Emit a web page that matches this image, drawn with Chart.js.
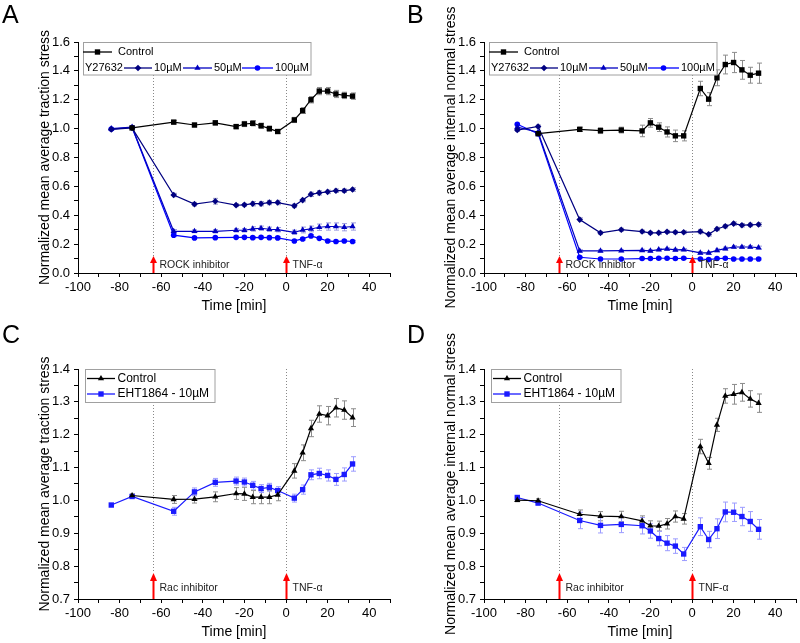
<!DOCTYPE html>
<html>
<head>
<meta charset="utf-8">
<script src="https://cdn.jsdelivr.net/npm/chart.js@4.4.1/dist/chart.umd.min.js"></script>
<style>
  body { margin: 0; background: #fff; }
  #wrap { position: relative; width: 800px; height: 643px; overflow: hidden; }
  .panel { position: absolute; }
  .letter { position: absolute; font: 25px "Liberation Sans", Arial, sans-serif; color: #000; line-height: 28px; }
</style>
</head>
<body>
<div id="wrap">
  <div class="panel" style="left:0;top:0;width:400px;height:321px"><canvas id="chartA"></canvas></div>
  <div class="panel" style="left:400px;top:0;width:400px;height:321px"><canvas id="chartB"></canvas></div>
  <div class="panel" style="left:0;top:321px;width:400px;height:322px"><canvas id="chartC"></canvas></div>
  <div class="panel" style="left:400px;top:321px;width:400px;height:322px"><canvas id="chartD"></canvas></div>
  <div class="letter" style="left:2px;top:0px">A</div>
  <div class="letter" style="left:407px;top:0px">B</div>
  <div class="letter" style="left:2px;top:320px">C</div>
  <div class="letter" style="left:407px;top:320px">D</div>
</div>
<script>
// time points [min]
const times = [-84, -74, -54, -44, -34, -24, -20, -16, -12, -8, -4, 4, 8, 12, 16, 20, 24, 28, 32];

// panel A - traction stress, ROCK inhibitor
const ctrlA = [null, 1.005, 1.045, 1.025, 1.04, 1.014, 1.032, 1.037, 1.02, 1.0, 0.98, 1.06, 1.125, 1.2, 1.26, 1.26, 1.24, 1.23, 1.225];
const y10A = [0.995, 1.005, 0.54, 0.477, 0.497, 0.47, 0.472, 0.48, 0.48, 0.488, 0.488, 0.465, 0.505, 0.545, 0.555, 0.562, 0.57, 0.57, 0.578];
const y50A = [1.0, 1.01, 0.289, 0.289, 0.289, 0.296, 0.296, 0.305, 0.31, 0.303, 0.30, 0.282, 0.298, 0.305, 0.317, 0.322, 0.322, 0.317, 0.322];
const y100A = [0.997, 1.008, 0.262, 0.243, 0.245, 0.247, 0.247, 0.245, 0.247, 0.245, 0.243, 0.222, 0.236, 0.257, 0.24, 0.222, 0.218, 0.222, 0.218];
const errCtrlA = [null, 0.01, 0.012, 0.012, 0.015, 0.015, 0.018, 0.018, 0.018, 0.018, 0.013, 0.018, 0.02, 0.022, 0.025, 0.025, 0.025, 0.022, 0.022];
const err10A = [0.008, 0.008, 0.012, 0.012, 0.02, 0.01, 0.01, 0.015, 0.015, 0.015, 0.015, 0.012, 0.012, 0.015, 0.015, 0.012, 0.012, 0.012, 0.012];
const err50A = [0.008, 0.008, 0.012, 0.01, 0.012, 0.012, 0.012, 0.015, 0.015, 0.015, 0.015, 0.015, 0.02, 0.02, 0.022, 0.025, 0.025, 0.025, 0.025];
const err100A = [0.008, 0.008, 0.01, 0.008, 0.008, 0.008, 0.008, 0.008, 0.008, 0.008, 0.008, 0.008, 0.008, 0.008, 0.008, 0.008, 0.008, 0.008, 0.008];

// panel B - internal normal stress, ROCK inhibitor
const ctrlB = [null, 0.965, 0.995, 0.986, 0.99, 0.984, 1.04, 1.01, 0.977, 0.95, 0.95, 1.278, 1.204, 1.352, 1.444, 1.458, 1.407, 1.37, 1.384];
const y10B = [0.99, 1.015, 0.37, 0.278, 0.30, 0.287, 0.278, 0.278, 0.285, 0.282, 0.282, 0.287, 0.268, 0.305, 0.324, 0.342, 0.331, 0.333, 0.336];
const y50B = [1.01, 0.975, 0.153, 0.153, 0.155, 0.157, 0.153, 0.162, 0.167, 0.16, 0.162, 0.139, 0.139, 0.157, 0.169, 0.18, 0.18, 0.18, 0.176];
const y100B = [1.03, 0.965, 0.109, 0.097, 0.097, 0.1, 0.1, 0.102, 0.102, 0.1, 0.102, 0.097, 0.093, 0.1, 0.102, 0.097, 0.097, 0.097, 0.097];
const errCtrlB = [null, 0.01, 0.015, 0.02, 0.02, 0.04, 0.03, 0.03, 0.035, 0.04, 0.035, 0.05, 0.045, 0.055, 0.065, 0.07, 0.065, 0.055, 0.07];
const err10B = [0.01, 0.01, 0.012, 0.01, 0.01, 0.01, 0.01, 0.01, 0.01, 0.01, 0.01, 0.015, 0.012, 0.012, 0.012, 0.012, 0.012, 0.012, 0.012];
const err50B = [0.008, 0.008, 0.008, 0.008, 0.008, 0.008, 0.008, 0.008, 0.008, 0.008, 0.008, 0.01, 0.01, 0.01, 0.01, 0.01, 0.01, 0.01, 0.01];
const err100B = [0.006, 0.006, 0.006, 0.006, 0.006, 0.006, 0.006, 0.006, 0.006, 0.006, 0.006, 0.006, 0.006, 0.006, 0.006, 0.006, 0.006, 0.006, 0.006];

// panel C - traction stress, Rac inhibitor
const ctrlC = [null, 1.015, 1.003, 1.004, 1.011, 1.021, 1.02, 1.01, 1.01, 1.01, 1.017, 1.09, 1.145, 1.219, 1.263, 1.258, 1.282, 1.275, 1.252];
const ehtC = [0.986, 1.012, 0.967, 1.026, 1.055, 1.059, 1.056, 1.046, 1.036, 1.04, 1.03, 1.007, 1.033, 1.078, 1.082, 1.076, 1.064, 1.079, 1.111];
const errCtrlC = [null, 0.005, 0.012, 0.012, 0.015, 0.018, 0.02, 0.02, 0.02, 0.02, 0.018, 0.022, 0.024, 0.025, 0.025, 0.028, 0.028, 0.028, 0.027];
const errEhtC = [0.005, 0.005, 0.012, 0.012, 0.012, 0.012, 0.012, 0.012, 0.012, 0.012, 0.012, 0.012, 0.014, 0.015, 0.016, 0.017, 0.018, 0.02, 0.022];

// panel D - internal normal stress, Rac inhibitor
const ctrlD = [1.001, 0.999, 0.958, 0.952, 0.951, 0.938, 0.923, 0.922, 0.929, 0.951, 0.944, 1.164, 1.113, 1.23, 1.318, 1.323, 1.329, 1.309, 1.296];
const ehtD = [1.009, 0.992, 0.939, 0.924, 0.927, 0.923, 0.907, 0.884, 0.87, 0.861, 0.837, 0.92, 0.881, 0.914, 0.965, 0.964, 0.951, 0.936, 0.912];
const errCtrlD = [0.005, 0.006, 0.013, 0.014, 0.016, 0.015, 0.015, 0.015, 0.016, 0.017, 0.016, 0.022, 0.018, 0.02, 0.022, 0.03, 0.027, 0.025, 0.028];
const errEhtD = [0.005, 0.006, 0.025, 0.023, 0.025, 0.025, 0.022, 0.022, 0.023, 0.022, 0.02, 0.027, 0.025, 0.03, 0.03, 0.028, 0.028, 0.03, 0.03];

// axis ticks
const xTicks = [-100, -90, -80, -70, -60, -50, -40, -30, -20, -10, 0, 10, 20, 30, 40, 50];
const xLabels = [-100, -80, -60, -40, -20, 0, 20, 40];
const yTicksAB = [0, 0.1, 0.2, 0.3, 0.4, 0.5, 0.6, 0.7, 0.8, 0.9, 1.0, 1.1, 1.2, 1.3, 1.4, 1.5, 1.6];
const yLabelsAB = [0, 0.2, 0.4, 0.6, 0.8, 1.0, 1.2, 1.4, 1.6];
const yTicksCD = [0.7, 0.75, 0.8, 0.85, 0.9, 0.95, 1.0, 1.05, 1.1, 1.15, 1.2, 1.25, 1.3, 1.35, 1.4];
const yLabelsCD = [0.7, 0.8, 0.9, 1.0, 1.1, 1.2, 1.3, 1.4];

Chart.defaults.font.family = '"Liberation Sans", Arial, sans-serif';
Chart.defaults.color = '#000';

function drawMarker(ctx, style, r, x, y, color) {
  ctx.fillStyle = color;
  ctx.beginPath();
  if (style === 'rect') {
    const s = r * Math.SQRT1_2;
    ctx.rect(x - s, y - s, 2 * s, 2 * s);
  } else if (style === 'rectRot') {
    ctx.moveTo(x, y - r); ctx.lineTo(x + r, y); ctx.lineTo(x, y + r); ctx.lineTo(x - r, y); ctx.closePath();
  } else if (style === 'triangle') {
    ctx.moveTo(x, y - r); ctx.lineTo(x + 0.866 * r, y + 0.5 * r); ctx.lineTo(x - 0.866 * r, y + 0.5 * r); ctx.closePath();
  } else {
    ctx.arc(x, y, r, 0, Math.PI * 2);
  }
  ctx.fill();
}

const overlay = {
  id: 'overlay',
  beforeDatasetsDraw(chart, args, o) {
    const { ctx, chartArea, scales: { x, y } } = chart;
    ctx.save();
    // dotted event lines
    ctx.strokeStyle = '#888';
    ctx.lineWidth = 1;
    ctx.setLineDash([1, 2]);
    o.marks.forEach(m => {
      const px = Math.round(x.getPixelForValue(m.t)) + 0.5;
      ctx.beginPath();
      ctx.moveTo(px, chartArea.top);
      ctx.lineTo(px, chartArea.bottom - o.arrowLen);
      ctx.stroke();
    });
    ctx.setLineDash([]);
    // error bars
    chart.data.datasets.forEach(ds => {
      ctx.strokeStyle = ds.errColor;
      ds.data.forEach((p, j) => {
        const e = ds.errs[j];
        if (p.y == null || e == null) return;
        const px = Math.round(x.getPixelForValue(p.x)) + 0.5;
        const y1 = y.getPixelForValue(p.y + e);
        const y2 = y.getPixelForValue(p.y - e);
        ctx.beginPath();
        ctx.moveTo(px, y1); ctx.lineTo(px, y2);
        ctx.moveTo(px - 2.5, y1); ctx.lineTo(px + 2.5, y1);
        ctx.moveTo(px - 2.5, y2); ctx.lineTo(px + 2.5, y2);
        ctx.stroke();
      });
    });
    ctx.restore();
  },
  afterDatasetsDraw(chart, args, o) {
    const { ctx, chartArea, scales: { x } } = chart;
    const L = chartArea.left, T = chartArea.top, B = chartArea.bottom;
    ctx.save();
    // red arrows + labels
    o.marks.forEach(m => {
      const px = Math.round(x.getPixelForValue(m.t)) + 0.5;
      ctx.fillStyle = '#ff0000';
      ctx.fillRect(px - 1, B - o.arrowLen + o.headH - 1, 2, o.arrowLen - o.headH + 1);
      ctx.beginPath();
      ctx.moveTo(px, B - o.arrowLen);
      ctx.lineTo(px + 3.5, B - o.arrowLen + o.headH);
      ctx.lineTo(px - 3.5, B - o.arrowLen + o.headH);
      ctx.closePath();
      ctx.fill();
      ctx.fillStyle = '#222';
      ctx.font = '10.5px "Liberation Sans", Arial, sans-serif';
      ctx.textBaseline = 'middle';
      ctx.textAlign = 'left';
      ctx.fillText(m.text, px + 6, B - o.labelDy);
    });
    // legend
    const lg = o.legend;
    ctx.fillStyle = '#fff';
    ctx.strokeStyle = '#a0a0a0';
    ctx.lineWidth = 1;
    ctx.fillRect(L + lg.box[0], T + lg.box[1], lg.box[2] - lg.box[0], lg.box[3] - lg.box[1]);
    ctx.strokeRect(Math.round(L + lg.box[0]) + 0.5, Math.round(T + lg.box[1]) + 0.5, lg.box[2] - lg.box[0], lg.box[3] - lg.box[1]);
    ctx.font = lg.font;
    ctx.textBaseline = 'middle';
    lg.rows.forEach(row => {
      const yy = T + row.y;
      if (row.prefix) {
        ctx.fillStyle = '#000';
        ctx.fillText(row.prefix, L + row.px, yy);
      }
      row.items.forEach(it => {
        const ds = chart.data.datasets[it.ds];
        ctx.strokeStyle = ds.borderColor;
        ctx.lineWidth = 1.3;
        ctx.beginPath();
        ctx.moveTo(L + it.x0, yy); ctx.lineTo(L + it.x1, yy);
        ctx.stroke();
        drawMarker(ctx, ds.pointStyle, ds.pointRadius, L + (it.x0 + it.x1) / 2, yy, ds.borderColor);
        ctx.fillStyle = '#000';
        ctx.fillText(ds.label, L + it.tx, yy);
      });
    });
    ctx.restore();
  }
};

function series(label, vals, errs, color, errColor, style, r) {
  return {
    label: label,
    data: times.map((t, i) => ({ x: t, y: vals[i] })),
    errs: errs,
    errColor: errColor,
    borderColor: color,
    backgroundColor: color,
    borderWidth: 1.2,
    pointStyle: style,
    pointRadius: r,
    pointBorderWidth: 0,
    pointBackgroundColor: color,
    tension: 0,
    clip: false
  };
}

function makePanel(id, p) {
  new Chart(document.getElementById(id), {
    type: 'line',
    data: { datasets: p.datasets },
    options: {
      responsive: true,
      maintainAspectRatio: false,
      animation: false,
      events: [],
      layout: { padding: { left: 0, right: p.right, top: p.top, bottom: 0 } },
      plugins: {
        legend: { display: false },
        tooltip: { enabled: false },
        overlay: p.overlay
      },
      scales: {
        x: {
          type: 'linear',
          min: -100,
          max: 50,
          afterBuildTicks: s => { s.ticks = xTicks.map(v => ({ value: v })); },
          afterFit: s => { s.height = p.xH; },
          grid: { drawOnChartArea: false, drawTicks: true, tickLength: 4, color: '#000' },
          border: { display: true, color: '#000', width: 1 },
          ticks: {
            autoSkip: false,
            maxRotation: 0,
            padding: 3,
            font: { size: 13 },
            color: '#000',
            callback: v => xLabels.includes(v) ? String(v) : ''
          },
          title: { display: true, text: 'Time [min]', font: { size: 14 }, color: '#000', padding: { top: 0, bottom: p.xTitlePad } }
        },
        y: {
          min: p.yMin,
          max: p.yMax,
          afterBuildTicks: s => { s.ticks = p.yTicks.map(v => ({ value: v })); },
          afterFit: s => { s.width = p.yW; },
          grid: { drawOnChartArea: false, drawTicks: true, tickLength: 4, color: '#000' },
          border: { display: true, color: '#000', width: 1 },
          ticks: {
            autoSkip: false,
            padding: 4,
            font: { size: 13 },
            color: '#000',
            callback: v => p.yLabels.some(l => Math.abs(l - v) < 1e-6) ? v.toFixed(1) : ''
          },
          title: { display: true, text: p.yTitle, font: { size: 14 }, color: '#000', padding: { top: p.yTitlePad, bottom: 0 } }
        }
      }
    },
    plugins: [overlay]
  });
}

const legendROCK = {
  font: '11px "Liberation Sans", Arial, sans-serif',
  box: [4.5, 0, 232, 32.5],
  rows: [
    { y: 10, items: [{ ds: 0, x0: 5, x1: 34, tx: 40 }] },
    { y: 26, prefix: 'Y27632', px: 7, items: [
      { ds: 1, x0: 46, x1: 74, tx: 76 },
      { ds: 2, x0: 105, x1: 134, tx: 136 },
      { ds: 3, x0: 164, x1: 195, tx: 197 }
    ] }
  ]
};
const legendRac = {
  font: '12px "Liberation Sans", Arial, sans-serif',
  box: [7, 0, 136.5, 33],
  rows: [
    { y: 9.5, items: [{ ds: 0, x0: 9, x1: 37, tx: 39.5 }] },
    { y: 25, items: [{ ds: 1, x0: 9, x1: 37, tx: 39.5 }] }
  ]
};

const GREY_ERR = '#8c8c8c';

makePanel('chartA', {
  datasets: [
    series('Control', ctrlA, errCtrlA, '#000000', GREY_ERR, 'rect', 3.8),
    series('10µM', y10A, err10A, '#000080', '#9a9ac4', 'rectRot', 3.3),
    series('50µM', y50A, err50A, '#0000c0', '#9a9ae0', 'triangle', 3.6),
    series('100µM', y100A, err100A, '#0000ff', '#9c9cff', 'circle', 2.8)
  ],
  yMin: 0, yMax: 1.6, yTicks: yTicksAB, yLabels: yLabelsAB,
  yTitle: 'Normalized mean average traction stress',
  top: 42, right: 10, xH: 48, yW: 78, xTitlePad: 6, yTitlePad: 37,
  overlay: {
    marks: [{ t: -64, text: 'ROCK inhibitor' }, { t: 0, text: 'TNF-α' }],
    arrowLen: 17, headH: 7, labelDy: 8,
    legend: legendROCK
  }
});

makePanel('chartB', {
  datasets: [
    series('Control', ctrlB, errCtrlB, '#000000', GREY_ERR, 'rect', 3.8),
    series('10µM', y10B, err10B, '#000080', '#9a9ac4', 'rectRot', 3.3),
    series('50µM', y50B, err50B, '#0000c0', '#9a9ae0', 'triangle', 3.6),
    series('100µM', y100B, err100B, '#0000ff', '#9c9cff', 'circle', 2.8)
  ],
  yMin: 0, yMax: 1.6, yTicks: yTicksAB, yLabels: yLabelsAB,
  yTitle: 'Normalized mean average internal normal stress',
  top: 42, right: 2, xH: 48, yW: 84, xTitlePad: 6, yTitlePad: 43,
  overlay: {
    marks: [{ t: -64, text: 'ROCK inhibitor' }, { t: 0, text: 'TNF-α' }],
    arrowLen: 17, headH: 7, labelDy: 8,
    legend: legendROCK
  }
});

makePanel('chartC', {
  datasets: [
    series('Control', ctrlC, errCtrlC, '#000000', GREY_ERR, 'triangle', 3.6),
    series('EHT1864 - 10µM', ehtC, errEhtC, '#1a1aff', '#9c9cff', 'rect', 3.8)
  ],
  yMin: 0.7, yMax: 1.4, yTicks: yTicksCD, yLabels: yLabelsCD,
  yTitle: 'Normalized mean average traction stress',
  top: 48, right: 10, xH: 44, yW: 78, xTitlePad: 2, yTitlePad: 37,
  overlay: {
    marks: [{ t: -64, text: 'Rac inhibitor' }, { t: 0, text: 'TNF-α' }],
    arrowLen: 26, headH: 8, labelDy: 11,
    legend: legendRac
  }
});

makePanel('chartD', {
  datasets: [
    series('Control', ctrlD, errCtrlD, '#000000', GREY_ERR, 'triangle', 3.6),
    series('EHT1864 - 10µM', ehtD, errEhtD, '#1a1aff', '#9c9cff', 'rect', 3.8)
  ],
  yMin: 0.7, yMax: 1.4, yTicks: yTicksCD, yLabels: yLabelsCD,
  yTitle: 'Normalized mean average internal normal stress',
  top: 48, right: 2, xH: 44, yW: 84, xTitlePad: 2, yTitlePad: 43,
  overlay: {
    marks: [{ t: -64, text: 'Rac inhibitor' }, { t: 0, text: 'TNF-α' }],
    arrowLen: 26, headH: 8, labelDy: 11,
    legend: legendRac
  }
});
</script>
</body>
</html>
